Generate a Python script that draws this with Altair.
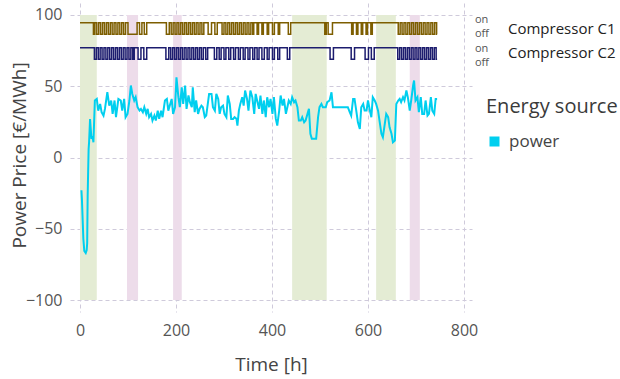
import altair as alt
import pandas as pd

FONT = "Open Sans"

# ---- power price series (hour, €/MWh) ----
hours = [3, 4, 7, 9, 12, 14, 15, 16, 17, 18,
         19, 21, 22, 24, 26, 28, 31, 35, 38, 42,
         45, 49, 52, 57, 61, 65, 68, 72, 75, 80,
         85, 88, 92, 95, 99, 103, 106, 109, 113, 116,
         120, 124, 127, 131, 134, 138, 141, 144, 148, 151,
         155, 158, 162, 165, 169, 172, 177, 181, 184, 188,
         191, 194, 198, 201, 205, 208, 212, 215, 219, 222,
         226, 229, 233, 235, 239, 242, 246, 249, 253, 256,
         260, 263, 269, 274, 277, 281, 284, 288, 291, 294,
         298, 301, 305, 308, 312, 315, 319, 322, 326, 328,
         331, 334, 338, 341, 344, 348, 351, 355, 359, 363,
         366, 369, 373, 376, 380, 383, 387, 390, 394, 397,
         401, 404, 408, 411, 415, 418, 422, 425, 429, 432,
         435, 439, 442, 446, 449, 453, 456, 460, 463, 467,
         470, 474, 477, 480, 483, 487, 492, 496, 499, 503,
         506, 512, 515, 520, 524, 527, 558, 562, 565, 569,
         572, 576, 579, 583, 586, 590, 593, 597, 600, 604,
         607, 610, 614, 617, 621, 624, 628, 631, 635, 638,
         642, 645, 649, 652, 656, 659, 663, 666, 669, 673,
         676, 680, 683, 687, 690, 694, 696, 699, 703, 706,
         710, 713, 717, 720, 724, 727, 731, 734, 738, 741,
         744]
price = [-23, -29, -57, -65.5, -67, -65, -60, -27, -10, 6,
         11, 27, 22, 13, 15, 10.7, 40.0, 41.1, 32.9, 37.6,
         31.8, 29.4, 34.1, 45.8, 36.4, 40.0, 30.6, 40.0, 28.3, 41.1,
         40.0, 32.9, 41.1, 28.3, 30.6, 40.0, 50.5, 44.6, 40.0, 42.3,
         35.3, 32.9, 34.1, 31.8, 35.3, 30.6, 34.1, 28.3, 30.6, 25.9,
         29.4, 25.9, 32.9, 27.1, 32.9, 28.3, 40.0, 41.1, 32.9, 37.6,
         41.1, 30.6, 35.3, 56.3, 42.3, 35.3, 49.3, 37.6, 50.5, 34.1,
         43.5, 38.8, 35.3, 49.3, 31.8, 40.0, 30.6, 34.1, 36.4, 35.3,
         28.3, 29.4, 44.6, 44.6, 35.3, 32.9, 44.6, 41.1, 30.6, 35.3,
         36.4, 30.6, 28.3, 43.5, 37.6, 27.1, 27.1, 28.3, 27.1, 22.4,
         32.9, 37.6, 42.3, 36.4, 47.0, 41.1, 32.9, 47.0, 42.3, 30.6,
         44.6, 40.0, 34.1, 43.5, 30.6, 40.0, 28.3, 42.3, 35.3, 41.1,
         30.6, 42.3, 27.1, 22.4, 32.9, 43.5, 36.4, 41.1, 30.6, 35.3,
         40.0, 37.6, 42.3, 38.8, 40.0, 35.3, 25.9, 25.9, 28.3, 24.7,
         25.9, 30.6, 34.1, 16.6, 13.1, 13.1, 13.1, 28.3, 35.3, 37.6,
         35.3, 35.3, 38.8, 40.0, 45.8, 35.3, 35.3, 31.8, 29.4, 41.1,
         41.1, 31.8, 24.7, 20.1, 35.3, 37.6, 32.9, 32.9, 40.0, 32.9,
         28.3, 42.3, 40.0, 37.6, 32.9, 25.9, 16.6, 14.2, 23.6, 30.6,
         28.3, 21.2, 16.6, 10.7, 11.9, 37.6, 40.0, 41.1, 38.8, 42.3,
         40.0, 47.0, 42.3, 32.9, 40.0, 50.5, 54.0, 40.0, 42.3, 31.8,
         42.3, 30.6, 30.6, 40.0, 29.4, 30.6, 42.3, 32.9, 30.6, 41.1,
         41.1]
assert len(hours) == len(price)

# ---- shaded periods (hours) ----
green_start = [0, 442, 617]
green_end = [35, 514, 658]
pink_start = [98, 194, 687]
pink_end = [121, 212, 708]

# ---- compressor on-periods (hours) ----
c1_on = [0, 31, 39, 47, 55, 63, 71, 79, 87, 95,
         119, 129, 139, 186, 194, 202, 210, 218, 226, 234,
         242, 250, 258, 274, 286, 300, 308, 316, 324, 332,
         340, 348, 356, 362, 372, 382, 393, 405, 416, 439,
         513, 526, 569, 579, 589, 599, 609, 667, 675, 683,
         691, 699, 707, 715, 723, 731, 739]
c1_off = [28, 35, 43, 51, 59, 67, 75, 83, 91, 100,
          124, 134, 180, 190, 198, 206, 214, 222, 230, 238,
          246, 254, 267, 281, 296, 304, 312, 320, 328, 336,
          344, 352, 360, 369, 379, 390, 401, 413, 434, 510,
          517, 566, 576, 586, 596, 606, 663, 671, 679, 687,
          695, 703, 711, 719, 727, 735, 743]
c2_on = [0, 34, 42, 50, 58, 66, 74, 82, 90, 98,
         106, 113, 127, 139, 185, 193, 201, 209, 217, 225,
         233, 241, 249, 257, 266, 285, 294, 304, 314, 324,
         334, 344, 354, 364, 373, 384, 394, 405, 416, 437,
         528, 572, 601, 613, 666, 674, 682, 690, 698, 706,
         714, 722, 730, 738]
c2_off = [30, 38, 46, 54, 62, 70, 78, 86, 94, 102,
          110, 121, 133, 179, 189, 197, 205, 213, 221, 229,
          237, 245, 253, 262, 280, 290, 300, 310, 320, 330,
          340, 350, 360, 369, 379, 390, 401, 412, 432, 521,
          565, 594, 607, 662, 670, 678, 686, 694, 702, 710,
          718, 726, 734, 742]
assert len(c1_on) == len(c1_off) and len(c2_on) == len(c2_off)
END_HOUR = 744
C1_LEVELS = (86.5, 94.5)   # off, on
C2_LEVELS = (69.0, 77.0)
comp_names = ["Compressor C1", "Compressor C2"]
state_labels = ["on", "off", "on", "off"]
state_levels = [C1_LEVELS[1], C1_LEVELS[0], C2_LEVELS[1], C2_LEVELS[0]]
state_shift = [-3, 0, 1, 4]   # small text nudges (px) so the stacked labels do not collide

W, H = 402, 309
XDOM = [-20.8, 816.7]
YDOM = [-108.4, 108.4]
xs = alt.Scale(domain=XDOM, nice=False, zero=False)
ys = alt.Scale(domain=YDOM, nice=False, zero=False)

GRID = "#cfcadb"
LABEL_C = "#555555"
TITLE_C = "#444444"


def step_frame(ons, offs, levels):
    t, v = [], []
    for a, b in zip(ons, offs):
        t += [a, b]
        v += [levels[1], levels[0]]
    t.append(END_HOUR)
    v.append(levels[0])
    return pd.DataFrame({"hour": t, "level": v})


power_df = pd.DataFrame({"hour": hours, "price": price, "source": "power"})
green_df = pd.DataFrame({"start": green_start, "end": green_end})
pink_df = pd.DataFrame({"start": pink_start, "end": pink_end})
c1_df = step_frame(c1_on, c1_off, C1_LEVELS)
c2_df = step_frame(c2_on, c2_off, C2_LEVELS)
name_df = pd.DataFrame({
    "label": comp_names,
    "level": [sum(C1_LEVELS) / 2, sum(C2_LEVELS) / 2],
})


def band(df, color):
    return alt.Chart(df).mark_rect(color=color).encode(
        x=alt.X("start:Q", scale=xs, axis=None),
        x2="end:Q",
        y=alt.YDatum(-100, scale=ys, axis=None),
        y2=alt.Y2Datum(100),
    )


green = band(green_df, "#e4ecd4")
pink = band(pink_df, "#eddcea")

power = alt.Chart(power_df).mark_line(strokeWidth=2).encode(
    x=alt.X("hour:Q", scale=xs,
            axis=alt.Axis(values=[0, 200, 400, 600, 800], title="Time [h]",
                          grid=True, gridColor=GRID, gridDash=[4, 3],
                          domain=False, ticks=False, labelPadding=10,
                          labelFontSize=16, labelColor=LABEL_C, labelFont=FONT,
                          titleFontSize=19, titleColor=TITLE_C, titleFont=FONT,
                          titleFontWeight="normal", titleY=43)),
    y=alt.Y("price:Q", scale=ys,
            axis=alt.Axis(values=[-100, -50, 0, 50, 100], title="Power Price [€/MWh]",
                          grid=True, gridColor=GRID, gridDash=[4, 3],
                          domain=False, ticks=False, labelPadding=8,
                          labelFontSize=16, labelColor=LABEL_C, labelFont=FONT,
                          titleFontSize=19, titleColor=TITLE_C, titleFont=FONT,
                          titleFontWeight="normal", titleX=-41, titleY=152)),
    color=alt.Color("source:N",
                    scale=alt.Scale(domain=["power"], range=["#00cfef"]),
                    legend=alt.Legend(title="Energy source", orient="none",
                                      legendX=416, legendY=94, padding=0,
                                      titleFontSize=20, titleFont=FONT,
                                      titleFontWeight="normal", titleColor="#3a3a3a",
                                      titlePadding=16,
                                      labelFontSize=17, labelFont=FONT,
                                      labelColor="#444444", labelOffset=6,
                                      symbolType="square", symbolSize=100,
                                      symbolFillColor="#00cfef",
                                      symbolStrokeColor="#00cfef",
                                      symbolStrokeWidth=0, symbolOpacity=1)),
)


def comp_line(df, color):
    return alt.Chart(df).mark_line(interpolate="step-after", strokeWidth=1.5,
                                   color=color).encode(
        x=alt.X("hour:Q", scale=xs, axis=None),
        y=alt.Y("level:Q", scale=ys, axis=None),
    )


c1 = comp_line(c1_df, "#7d5e00")
c2 = comp_line(c2_df, "#1c1c6e")


def state_text(label, level, dy):
    df = pd.DataFrame({"label": [label], "level": [level]})
    return alt.Chart(df).mark_text(align="left", baseline="middle", dy=dy,
                                   font=FONT, fontSize=11, color=LABEL_C).encode(
        x=alt.value(405),
        y=alt.Y("level:Q", scale=ys, axis=None),
        text="label:N",
    )


state_layers = [state_text(l, v, d) for l, v, d in zip(state_labels, state_levels, state_shift)]

names = alt.Chart(name_df).mark_text(align="left", baseline="middle",
                                     font=FONT, fontSize=15, color="#222222").encode(
    x=alt.value(438),
    y=alt.Y("level:Q", scale=ys, axis=None),
    text="label:N",
)

chart = alt.layer(green, pink, power, c1, c2, *state_layers, names).resolve_axis(
    x="independent", y="independent"
).properties(
    width=W, height=H,
    autosize=alt.AutoSizeParams(type="none"),
    padding={"left": 70, "top": 3, "right": 148, "bottom": 67},
    background="white",
).configure_view(stroke=None)

chart.save("out.html", embed_options={"renderer": "svg", "actions": False})
